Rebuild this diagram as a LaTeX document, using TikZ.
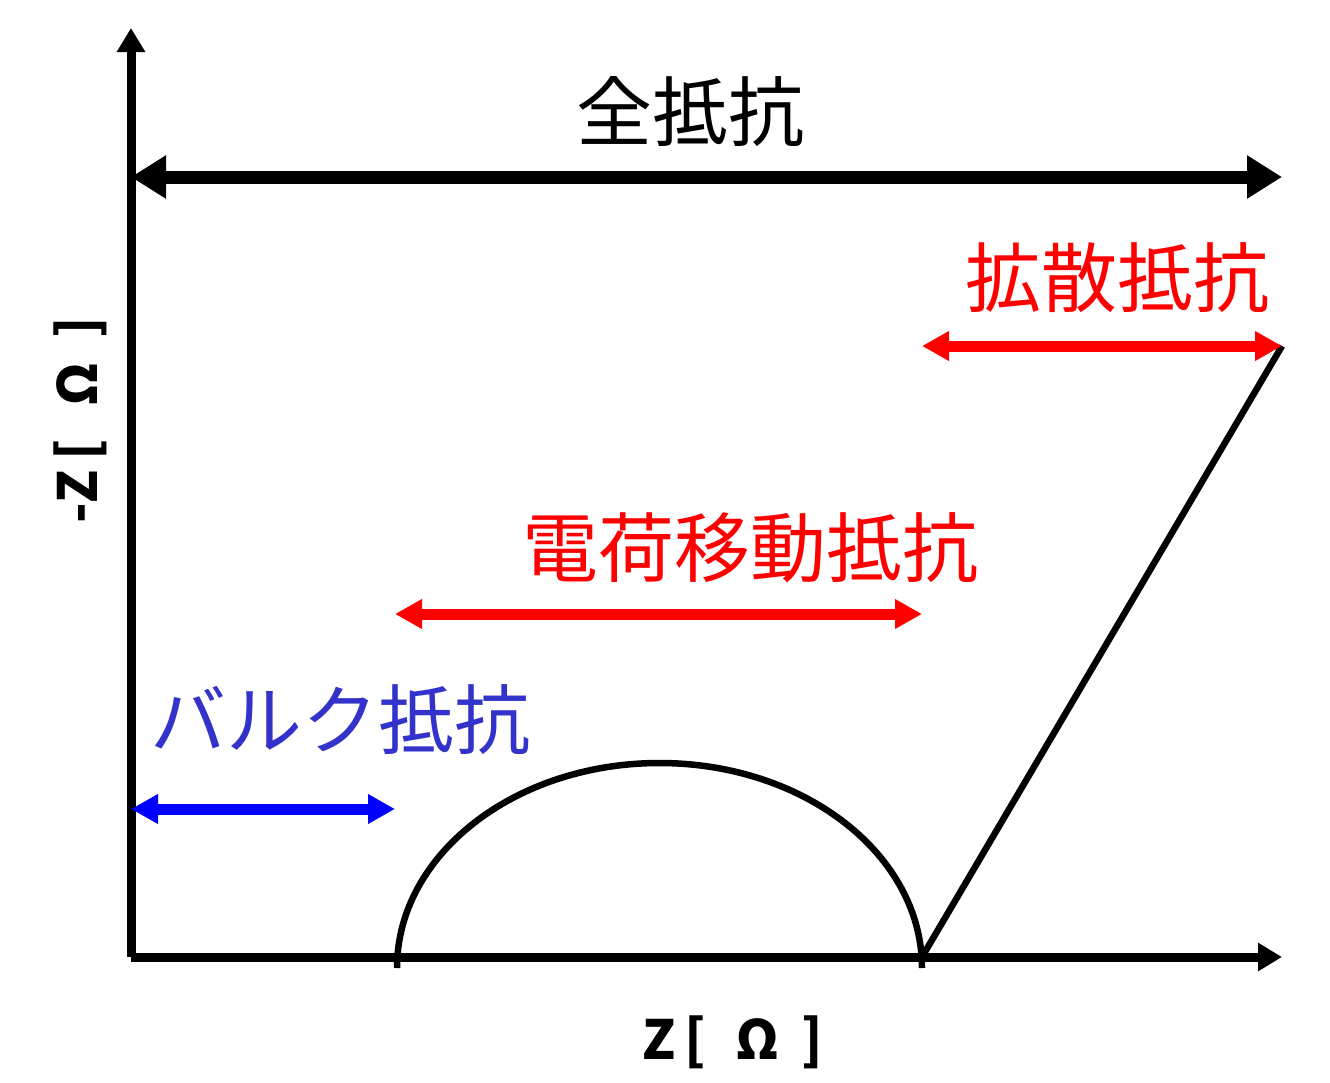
\documentclass[tikz,border=0pt]{standalone}
\usepackage{fontspec}
\usepackage{xcolor}
\usetikzlibrary{arrows.meta}
\newfontfamily\jp{Noto Sans CJK JP}
\definecolor{bulkblue}{HTML}{3333CC}

\begin{document}
\begin{tikzpicture}[x=1pt,y=-1pt,
    axis/.style={line width=9pt, -{Triangle[length=24pt,width=27pt]}},
    span/.style={line width=#1, {Triangle[length=27pt,width=28pt]}-{Triangle[length=27pt,width=28pt]}},
    curve/.style={line width=6.5pt},
    lbl/.style={font=\jp\fontsize{76}{80}\selectfont, inner sep=0pt},
    axlbl/.style={font=\jp\bfseries\fontsize{54}{58}\selectfont, inner sep=0pt}]
    \useasboundingbox (0,0) rectangle (1330,1082);
    % axes
    \coordinate (o) at (131,957);
    \coordinate (ytop) at (131,28);
    \coordinate (xend) at (1282,957);
    \draw[axis] (o) -- (ytop);
    \draw[axis] (o) -- (xend);
    \node[axlbl] (xlab) at (733,1042) {Z\hspace{8pt}[\hspace{30pt}Ω\hspace{22pt}]};
    \node[axlbl, rotate=90] (ylab) at (80,420) {-Z\hspace{10pt}[\hspace{32pt}Ω\hspace{24pt}]};

    % impedance curve
    \coordinate (a) at (397,968);
    \coordinate (b) at (922,957);
    \coordinate (c) at (1282,346);
    \draw[curve] (a) arc[start angle=180, end angle=360, x radius=262.5, y radius=205];
    \draw[curve] (b) -- (c);

    % spans
    \coordinate (t0) at (131,177);
    \coordinate (t1) at (1282,177);
    \draw[span=13pt, {Triangle[length=35pt,width=41pt]}-{Triangle[length=35pt,width=41pt]}] (t0) -- (t1);
    \node[lbl] (total) at (690,112) {全抵抗};

    \coordinate (d0) at (922,346);
    \draw[span=11pt, red] (d0) -- (c);
    \node[lbl, red] (diff) at (1117,278) {拡散抵抗};

    \coordinate (m0) at (395,614);
    \coordinate (m1) at (922,614);
    \draw[span=11pt, red] (m0) -- (m1);
    \node[lbl, red] (ct) at (750,548) {電荷移動抵抗};

    \coordinate (k0) at (131,809);
    \coordinate (k1) at (395,809);
    \draw[span=11pt, blue] (k0) -- (k1);
    \node[lbl, bulkblue] (bulk) at (340,720) {バルク抵抗};
\end{tikzpicture}
\end{document}
